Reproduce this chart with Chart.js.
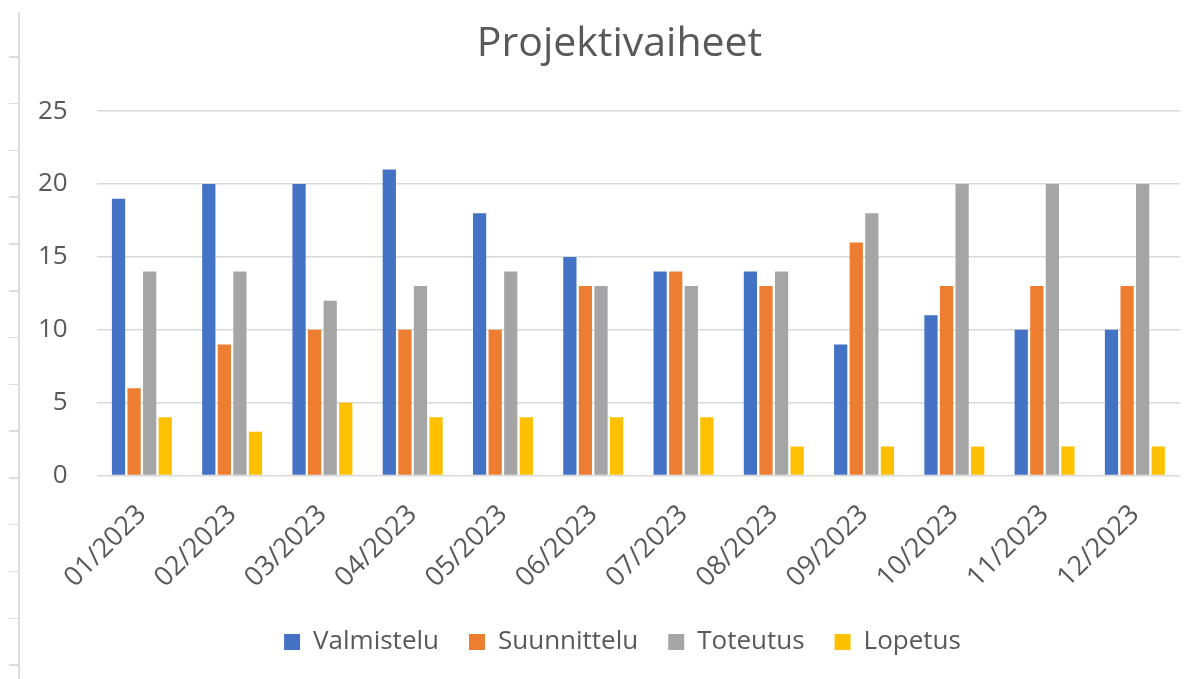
<!DOCTYPE html>
<html>
<head>
<meta charset="utf-8">
<script src="https://cdn.jsdelivr.net/npm/chart.js@4"></script>
<style>
    html, body { margin: 0; padding: 0; background: #fff; }
    #wrap { position: relative; width: 1189px; height: 679px; }
    #phase-chart { position: absolute; left: 0; top: 0; }
    /* ruler strip on the left edge of the screenshot */
    #ruler {
        position: absolute; left: 9px; top: 12px; width: 11px; height: 667px;
        border-right: 2px solid #dcdcdc;
        box-sizing: border-box;
        background-image: repeating-linear-gradient(to bottom, #dcdcdc 0px, #dcdcdc 1.5px, transparent 1.5px, transparent 46.8px);
        background-position: 0 44px;
        background-repeat: repeat-x;
    }
</style>
</head>
<body>
<div id="wrap">
    <div id="ruler"></div>
    <canvas id="phase-chart" width="1189" height="679"></canvas>
</div>
<script>
    // Chart data
    var months = ['01/2023', '02/2023', '03/2023', '04/2023', '05/2023', '06/2023',
                  '07/2023', '08/2023', '09/2023', '10/2023', '11/2023', '12/2023'];

    var valmistelu  = [19, 20, 20, 21, 18, 15, 14, 14, 9, 11, 10, 10];
    var suunnittelu = [6, 9, 10, 10, 10, 13, 14, 13, 16, 13, 13, 13];
    var toteutus    = [14, 14, 12, 13, 14, 13, 13, 14, 18, 20, 20, 20];
    var lopetus     = [4, 3, 5, 4, 4, 4, 4, 2, 2, 2, 2, 2];

    var yTicks = [0, 5, 10, 15, 20, 25];

    var textColor = '#595959';
    var fontFamily = '"Open Sans", "Noto Sans", sans-serif';
    var legendTrim = 10;  // px taken off the space above the legend row

    function series(label, data, color) {
        return {
            label: label,
            data: data,
            backgroundColor: color,
            borderWidth: 0,
            categoryPercentage: 0.69,
            barPercentage: 0.85
        };
    }

    // nudge title and legend so they sit where the original put them
    var blockShift = {
        id: 'blockShift',
        beforeLayout: function (chart) {
            var lg = chart.legend;
            if (lg && !lg._trimmed) {
                var fit = lg.fit;
                lg.fit = function () {
                    fit.call(this);
                    this.height -= legendTrim;
                };
                lg._trimmed = true;
            }
        },
        afterLayout: function (chart) {
            if (chart.titleBlock) chart.titleBlock.left += 50;
            if (chart.legend) {
                chart.legend.left += 56;
                chart.legend.top -= legendTrim;
            }
        }
    };

    var ctx = document.getElementById('phase-chart').getContext('2d');

    var phaseChart = new Chart(ctx, {
        type: 'bar',
        data: {
            labels: months,
            datasets: [
                series('Valmistelu', valmistelu, '#4472C4'),
                series('Suunnittelu', suunnittelu, '#ED7D31'),
                series('Toteutus', toteutus, '#A5A5A5'),
                series('Lopetus', lopetus, '#FFC000')
            ]
        },
        plugins: [blockShift],
        options: {
            responsive: false,
            animation: false,
            layout: {
                padding: { left: 9, right: 9, top: 0, bottom: 14 }
            },
            scales: {
                y: {
                    min: 0,
                    max: 25,
                    afterBuildTicks: function (axis) {
                        axis.ticks = yTicks.map(function (v) { return { value: v }; });
                    },
                    border: { display: false },
                    grid: { color: '#d9d9d9', lineWidth: 1.5, drawTicks: false },
                    ticks: {
                        color: textColor,
                        padding: 29,
                        font: { family: fontFamily, size: 26 }
                    }
                },
                x: {
                    border: { display: false },
                    grid: { display: false },
                    ticks: {
                        color: textColor,
                        minRotation: 45,
                        maxRotation: 45,
                        padding: 15,
                        font: { family: fontFamily, size: 27 }
                    }
                }
            },
            plugins: {
                title: {
                    display: true,
                    text: 'Projektivaiheet',
                    color: textColor,
                    font: { family: fontFamily, size: 41, weight: 'normal' },
                    padding: { top: 20, bottom: 42 }
                },
                legend: {
                    display: true,
                    position: 'bottom',
                    labels: {
                        color: textColor,
                        boxWidth: 16,
                        boxHeight: 16,
                        padding: 30,
                        font: { family: fontFamily, size: 26 }
                    }
                },
                tooltip: { enabled: false }
            }
        }
    });
</script>
</body>
</html>
